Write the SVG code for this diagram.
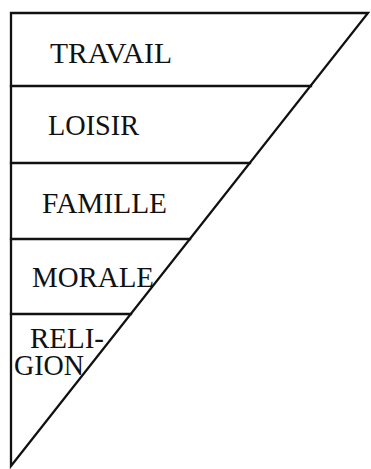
<svg xmlns="http://www.w3.org/2000/svg" width="371" height="469" viewBox="0 0 371 469">
<style>
.ln{stroke:#111;stroke-width:2.3;fill:none;stroke-linecap:square}
.t{font-family:"Liberation Serif","Times New Roman",serif;font-size:30px;fill:#111}
</style>
<rect width="371" height="469" fill="#fff"/>
<g id="frame">
<polygon class="ln" points="11,13 368,13 11,466"/>
</g>
<g id="connectors">
<line class="ln" x1="11" y1="86" x2="311" y2="86"/>
<line class="ln" x1="11" y1="163" x2="250" y2="163"/>
<line class="ln" x1="11" y1="239" x2="190" y2="239"/>
<line class="ln" x1="11" y1="314" x2="131" y2="314"/>
</g>
<g id="travail"><text class="t" x="50" y="63" textLength="122" lengthAdjust="spacingAndGlyphs">TRAVAIL</text></g>
<g id="loisir"><text class="t" x="48" y="135" textLength="91" lengthAdjust="spacingAndGlyphs">LOISIR</text></g>
<g id="famille"><text class="t" x="42" y="213" textLength="125" lengthAdjust="spacingAndGlyphs">FAMILLE</text></g>
<g id="morale"><text class="t" x="32" y="287" textLength="122" lengthAdjust="spacingAndGlyphs">MORALE</text></g>
<g id="religion"><text class="t" x="30" y="348" textLength="74" lengthAdjust="spacingAndGlyphs">RELI-</text><text class="t" x="14" y="375" textLength="70" lengthAdjust="spacingAndGlyphs">GION</text></g>
</svg>
